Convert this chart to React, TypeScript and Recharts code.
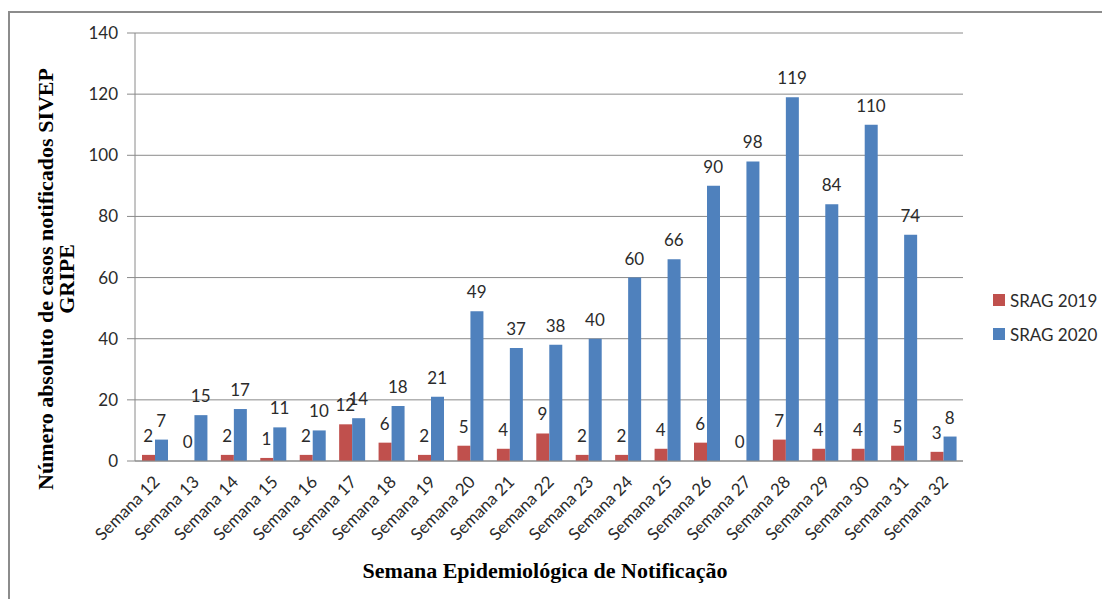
import React from "react";
import { ComposedChart, Bar, Line, XAxis, YAxis, CartesianGrid, Legend, LabelList } from "recharts";

const weeks = [
  "Semana 12", "Semana 13", "Semana 14", "Semana 15", "Semana 16", "Semana 17", "Semana 18",
  "Semana 19", "Semana 20", "Semana 21", "Semana 22", "Semana 23", "Semana 24", "Semana 25",
  "Semana 26", "Semana 27", "Semana 28", "Semana 29", "Semana 30", "Semana 31", "Semana 32",
];
const srag2019 = [2, 0, 2, 1, 2, 12, 6, 2, 5, 4, 9, 2, 2, 4, 6, 0, 7, 4, 4, 5, 3];
const srag2020 = [7, 15, 17, 11, 10, 14, 18, 21, 49, 37, 38, 40, 60, 66, 90, 98, 119, 84, 110, 74, 8];
const yTicks = [0, 20, 40, 60, 80, 100, 120, 140];
const seriesNames = ["SRAG 2019", "SRAG 2020"];
const colors = ["#C0504D", "#4F81BD"];

const data = weeks.map((w, i) => ({ week: w, a: srag2019[i], b: srag2020[i] }));

const SANS = "Lato, 'Open Sans', sans-serif";
const SERIF = "'Liberation Serif', 'DejaVu Serif', serif";
const TXT = "#2b2b2b";
const GRID = "#8a8a8a";
const BAR = 13;

const XTick = (props: any) => {
  const { x, y, payload } = props;
  const ex = x + 6;
  const ey = y + 14;
  return (
    <text
      x={ex}
      y={ey}
      transform={`rotate(-45, ${ex}, ${ey})`}
      textAnchor="end"
      fontSize={17}
      fontFamily={SANS}
      fill={TXT}
    >
      {payload.value}
    </text>
  );
};

const YTitle = () => (
  <g>
    <text
      x={37}
      y={271}
      transform="rotate(-90, 37, 271)"
      textAnchor="middle"
      dominantBaseline="central"
      fontSize={22}
      fontWeight="bold"
      fontFamily={SERIF}
      fill="#000"
    >
      Número absoluto de casos notificados SIVEP
    </text>
    <text
      x={58}
      y={271}
      transform="rotate(-90, 58, 271)"
      textAnchor="middle"
      dominantBaseline="central"
      fontSize={22}
      fontWeight="bold"
      fontFamily={SERIF}
      fill="#000"
    >
      GRIPE
    </text>
  </g>
);

const XTitle = () => (
  <text
    x={537}
    y={570}
    textAnchor="middle"
    fontSize={22}
    fontWeight="bold"
    fontFamily={SERIF}
    fill="#000"
  >
    Semana Epidemiológica de Notificação
  </text>
);

const makeLabel = (shift: number) => (p: any) => {
  const { x, y, value } = p;
  return (
    <text
      x={Number(x) + shift}
      y={Number(y) - 13}
      textAnchor="middle"
      fontSize={17}
      fontFamily={SANS}
      fill={TXT}
    >
      {value}
    </text>
  );
};

const LegendContent = () => (
  <div style={{ fontFamily: SANS, fontSize: 17, color: TXT }}>
    {seriesNames.map((n, i) => (
      <div key={n} style={{ display: "flex", alignItems: "center", height: 34 }}>
        <span style={{ display: "inline-block", width: 12, height: 12, background: colors[i], marginRight: 5 }} />
        <span>{n}</span>
      </div>
    ))}
  </div>
);

export default function App() {
  return (
    <div style={{ position: "relative", width: 1102, height: 591 }}>
      <div
        style={{
          position: "absolute",
          left: 0,
          top: 3,
          width: 1102,
          height: 588,
          borderLeft: "2px solid #8c8c8c",
          borderTop: "2px solid #8c8c8c",
          boxSizing: "border-box",
        }}
      />
      <div style={{ position: "absolute", left: 0, top: 0 }}>
        <ComposedChart
          width={1102}
          height={591}
          data={data}
          margin={{ top: 25, right: 147, bottom: 0, left: 0 }}
          barSize={BAR}
          barGap={0}
        >
          <CartesianGrid vertical={false} stroke={GRID} strokeWidth={1} />
          <XAxis
            dataKey="week"
            height={138}
            interval={0}
            tickLine={false}
            axisLine={{ stroke: GRID }}
            tick={<XTick />}
            label={{ content: XTitle }}
          />
          <YAxis
            width={127}
            domain={[0, 140]}
            ticks={yTicks}
            tickSize={8}
            tickMargin={9}
            tickLine={{ stroke: GRID }}
            axisLine={{ stroke: GRID }}
            tick={{ fontSize: 17, fontFamily: SANS, fill: TXT }}
            label={{ content: YTitle }}
          />
          <Legend
            layout="horizontal"
            verticalAlign="middle"
            align="center"
            content={<LegendContent />}
            wrapperStyle={{ position: "absolute", left: 985, top: 275, width: 120 }}
          />
          <Bar dataKey="a" name={seriesNames[0]} fill={colors[0]} isAnimationActive={false} />
          <Bar dataKey="b" name={seriesNames[1]} fill={colors[1]} isAnimationActive={false} />
          <Line
            dataKey="a"
            stroke="none"
            dot={false}
            activeDot={false}
            legendType="none"
            isAnimationActive={false}
          >
            <LabelList dataKey="a" content={makeLabel(-BAR / 2)} />
          </Line>
          <Line
            dataKey="b"
            stroke="none"
            dot={false}
            activeDot={false}
            legendType="none"
            isAnimationActive={false}
          >
            <LabelList dataKey="b" content={makeLabel(BAR / 2)} />
          </Line>
        </ComposedChart>
      </div>
    </div>
  );
}
